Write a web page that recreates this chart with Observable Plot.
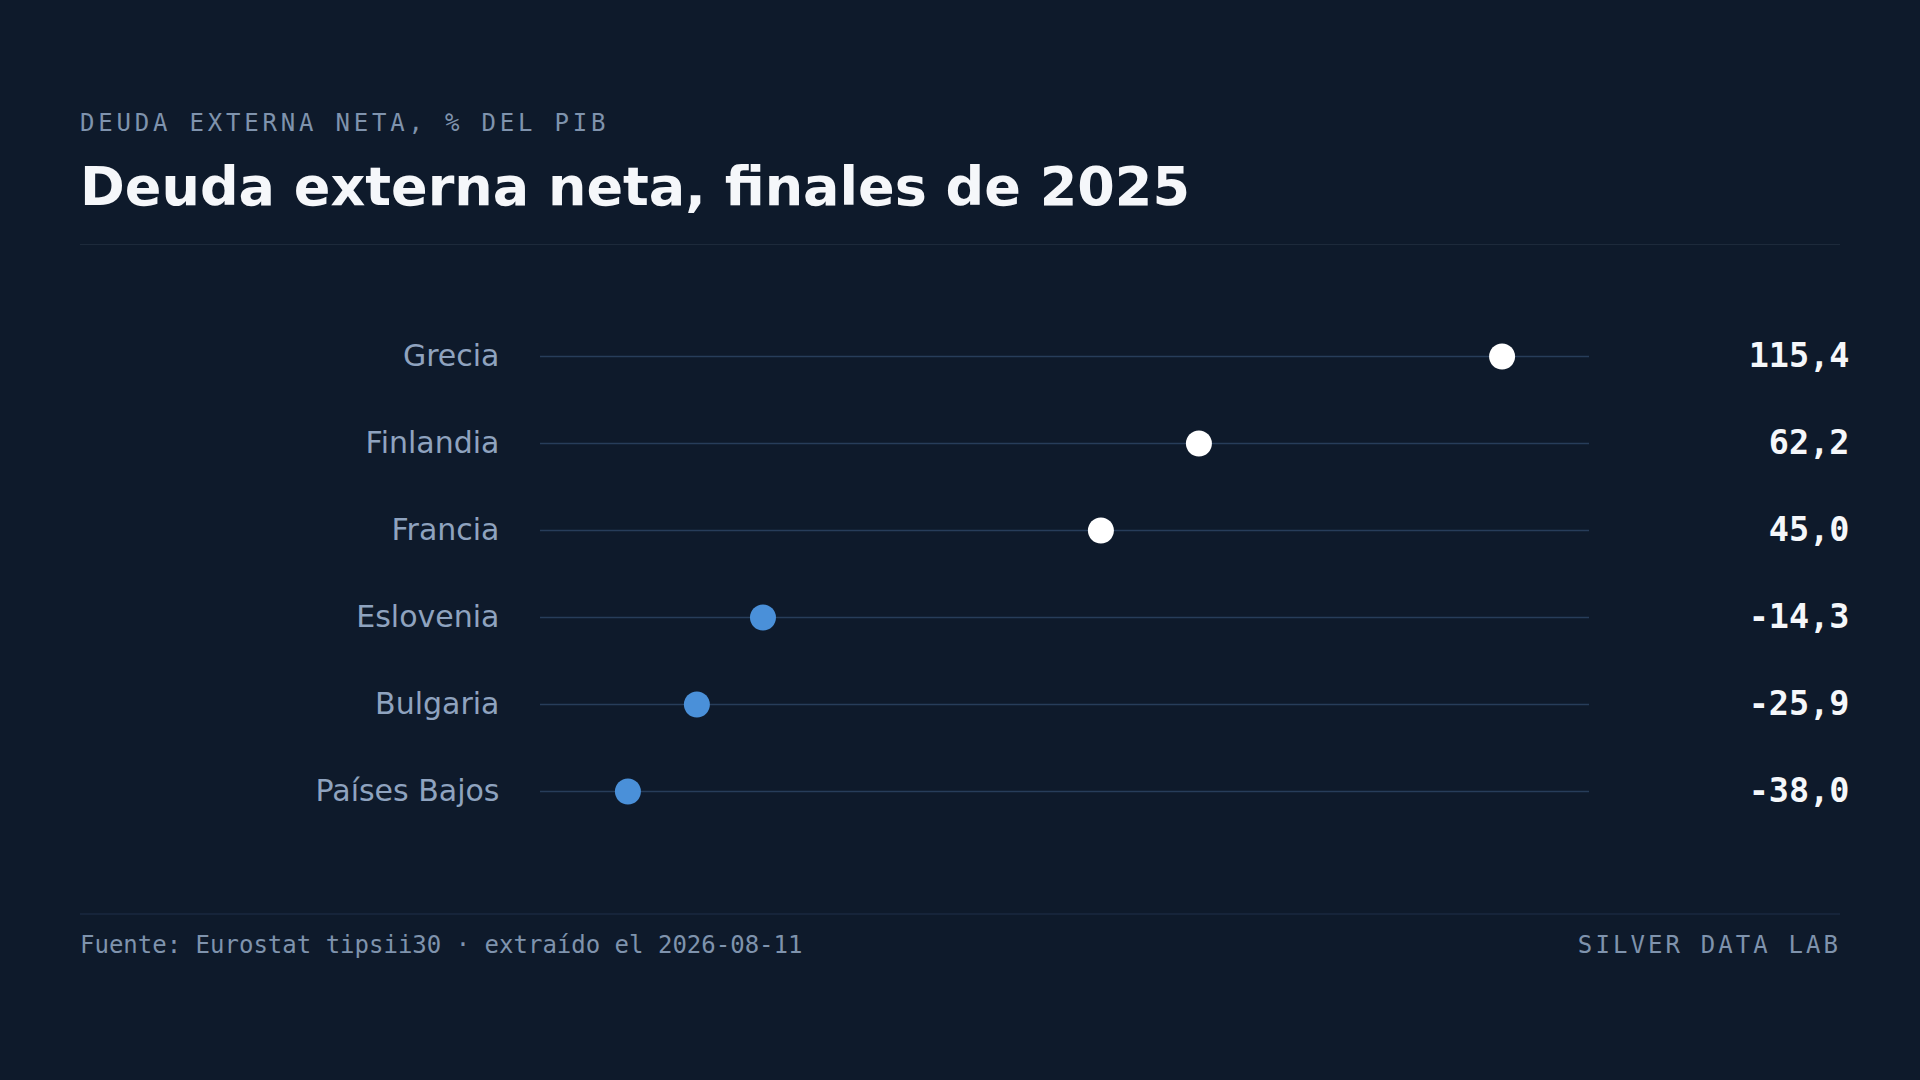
<!DOCTYPE html>
<html>
<head>
<meta charset="utf-8">
<script src="https://cdn.jsdelivr.net/npm/d3@7"></script>
<script src="https://cdn.jsdelivr.net/npm/@observablehq/plot@0.6"></script>
<style>
  html, body { margin: 0; padding: 0; background: #0e1a2b; }
  #page { position: relative; width: 1920px; height: 1080px; background: #0e1a2b; overflow: hidden; }
  .abs { position: absolute; white-space: nowrap; line-height: 1; }
  #kicker { left: 80px; top: 109px; font: 24px "DejaVu Sans Mono", monospace; letter-spacing: 3.8px; color: #7f93ad; }
  #title { left: 80px; top: 155px; font: bold 54px "DejaVu Sans", sans-serif; color: #f5f7fa; }
  #rule1 { left: 80px; top: 244px; width: 1760px; height: 1px; background: #1d2a3b; }
  #rule2 { left: 80px; top: 913px; width: 1760px; height: 2px; background: #16243a; }
  #source { left: 80px; top: 931px; font: 24px "DejaVu Sans Mono", monospace; color: #7f93ad; }
  #brand { right: 82px; top: 931px; font: 24px "DejaVu Sans Mono", monospace; letter-spacing: 3.1px; margin-right: -3.1px; color: #7f93ad; }
  #chart { position: absolute; left: 0; top: 245px; }
</style>
</head>
<body>
<div id="page">
  <div class="abs" id="kicker">DEUDA EXTERNA NETA, % DEL PIB</div>
  <div class="abs" id="title">Deuda externa neta, finales de 2025</div>
  <div class="abs" id="rule1"></div>
  <div id="chart"></div>
  <div class="abs" id="rule2"></div>
  <div class="abs" id="source">Fuente: Eurostat tipsii30 · extraído el 2026-08-11</div>
  <div class="abs" id="brand">SILVER DATA LAB</div>
</div>
<script>
const countries = ["Grecia", "Finlandia", "Francia", "Eslovenia", "Bulgaria", "Países Bajos"];
const values = [115.4, 62.2, 45.0, -14.3, -25.9, -38.0];

const data = countries.map((c, i) => ({country: c, value: values[i]}));
const [lo, hi] = d3.extent(values);
const pad = (hi - lo) * 0.1;
const fmt = v => v.toFixed(1).replace(".", ",");

const chart = Plot.plot({
  width: 1920,
  height: 668,
  marginLeft: 540,
  marginRight: 331,
  marginTop: 109,
  marginBottom: 120,
  style: { background: "transparent", overflow: "visible" },
  x: { domain: [lo - pad, hi + pad], axis: null },
  y: { type: "point", domain: countries, padding: 0, axis: null },
  marks: [
    Plot.ruleY(data, { y: "country", stroke: "#273d5a", strokeWidth: 1.6 }),
    Plot.dot(data, {
      x: "value", y: "country", r: 13, stroke: null,
      fill: d => d.value >= 0 ? "#ffffff" : "#4a90d9"
    }),
    Plot.text(data, {
      y: "country", text: "country", frameAnchor: "left", textAnchor: "end", dx: -41,
      fontSize: 30, fill: "#8fa3bf", fontFamily: "DejaVu Sans, sans-serif"
    }),
    Plot.text(data, {
      y: "country", text: d => fmt(d.value), frameAnchor: "right", textAnchor: "end", dx: 260,
      fontSize: 33.5, fontWeight: "bold", fill: "#f5f7fa", fontFamily: "DejaVu Sans Mono, monospace"
    })
  ]
});
document.getElementById("chart").appendChild(chart);
</script>
</body>
</html>
